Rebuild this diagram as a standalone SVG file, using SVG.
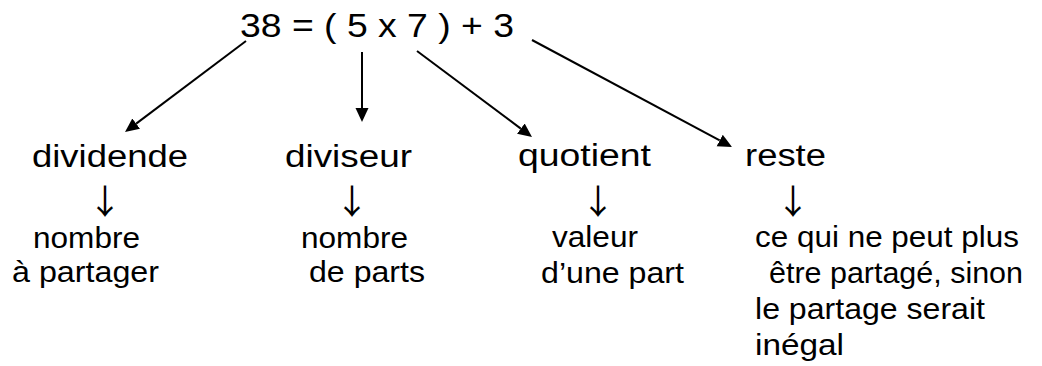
<svg xmlns="http://www.w3.org/2000/svg" width="1042" height="366" viewBox="0 0 1042 366">
  <style>
    text { font-family: "Liberation Sans", Arial, sans-serif; fill: #000; }
    .title { font-size: 34px; }
    .lbl { font-size: 31px; }
    .arr { font-family: "Noto Sans CJK JP", "DejaVu Sans", sans-serif; font-size: 34px; text-anchor: middle; }
    .desc { font-size: 30px; }
    .conn { stroke: #000; stroke-width: 2; fill: none; }
  </style>
  <defs>
    <marker id="ah" markerUnits="userSpaceOnUse" markerWidth="16" markerHeight="14" viewBox="0 -7 16 14" refX="0" refY="0" orient="auto">
      <path d="M0,-6.5 L14,0 L0,6.5 z" fill="#000"/>
    </marker>
  </defs>
  <rect width="1042" height="366" fill="#fff"/>

  <g id="equation">
    <text class="title" x="240" y="37" textLength="274" lengthAdjust="spacingAndGlyphs">38 = ( 5 x 7 ) + 3</text>
  </g>

  <g id="connectors">
    <line class="conn" x1="246" y1="41" x2="136.2" y2="123.6" marker-end="url(#ah)"/>
    <line class="conn" x1="362" y1="52" x2="362" y2="108" marker-end="url(#ah)"/>
    <line class="conn" x1="417" y1="51" x2="520.8" y2="128.6" marker-end="url(#ah)"/>
    <line class="conn" x1="532" y1="40" x2="719.7" y2="140.4" marker-end="url(#ah)"/>
  </g>

  <g id="dividende">
    <text class="lbl" x="32" y="167" textLength="156" lengthAdjust="spacingAndGlyphs">dividende</text>
    <text class="arr" x="105" y="214">↓</text>
    <text class="desc" x="33" y="248" textLength="107" lengthAdjust="spacingAndGlyphs">nombre</text>
    <text class="desc" x="12" y="282" textLength="147" lengthAdjust="spacingAndGlyphs">à partager</text>
  </g>

  <g id="diviseur">
    <text class="lbl" x="285" y="167" textLength="127" lengthAdjust="spacingAndGlyphs">diviseur</text>
    <text class="arr" x="352" y="214">↓</text>
    <text class="desc" x="301" y="248" textLength="107" lengthAdjust="spacingAndGlyphs">nombre</text>
    <text class="desc" x="309" y="282" textLength="116" lengthAdjust="spacingAndGlyphs">de parts</text>
  </g>

  <g id="quotient">
    <text class="lbl" x="518" y="166" textLength="133" lengthAdjust="spacingAndGlyphs">quotient</text>
    <text class="arr" x="598" y="214">↓</text>
    <text class="desc" x="552" y="247" textLength="86" lengthAdjust="spacingAndGlyphs">valeur</text>
    <text class="desc" x="541" y="283" textLength="143" lengthAdjust="spacingAndGlyphs">d’une part</text>
  </g>

  <g id="reste">
    <text class="lbl" x="745" y="166" textLength="81" lengthAdjust="spacingAndGlyphs">reste</text>
    <text class="arr" x="793" y="214">↓</text>
    <text class="desc" x="755" y="247" textLength="264" lengthAdjust="spacingAndGlyphs">ce qui ne peut plus</text>
    <text class="desc" x="769" y="283" textLength="254" lengthAdjust="spacingAndGlyphs">être partagé, sinon</text>
    <text class="desc" x="755" y="319" textLength="230" lengthAdjust="spacingAndGlyphs">le partage serait</text>
    <text class="desc" x="755" y="355" textLength="89" lengthAdjust="spacingAndGlyphs">inégal</text>
  </g>
</svg>
